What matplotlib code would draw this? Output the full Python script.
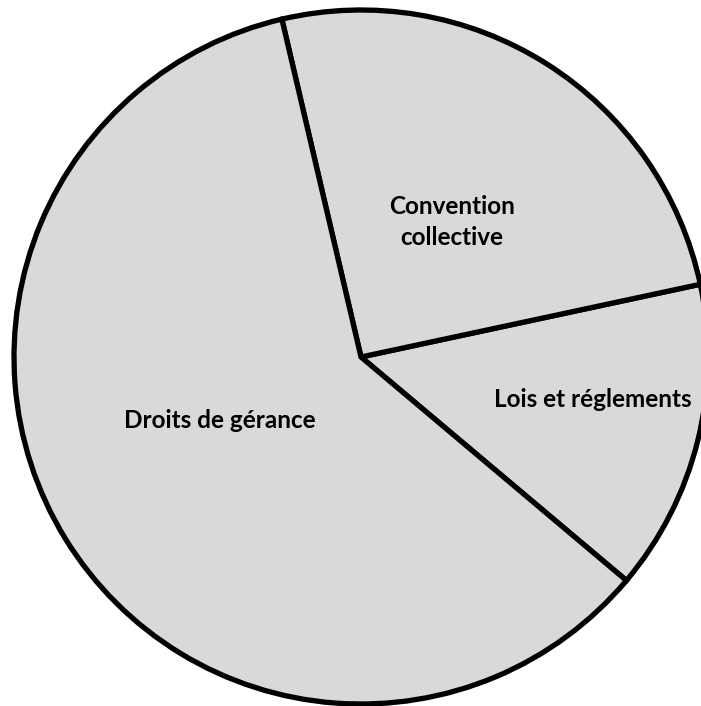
import matplotlib.pyplot as plt

# slice data (counter-clockwise from the lower right boundary)
categories = ['Lois et réglements', 'Convention collective', 'Droits de gérance']
values = [14.5, 25.3, 60.2]
# label anchor (centre x, baseline y of last line) in pixel units
label_xy = [(593, 299), (452, 461), (220, 278)]

fig = plt.figure(figsize=(7.01, 7.06), dpi=100)
ax = fig.add_axes([0, 0, 1, 1])

wedges, _ = ax.pie(values, startangle=-40.1, counterclock=True,
                   center=(361, 349), radius=347,
                   colors=['#d9d9d9'] * len(values),
                   wedgeprops=dict(edgecolor='black', linewidth=3.8))

for name, (x, y) in zip(categories, label_xy):
    ax.text(x, y, name.replace('Convention ', 'Convention\n'),
            ha='center', va='baseline', fontsize=17.5, fontweight='bold',
            family='Lato', linespacing=1.4)

ax.set_xlim(0, 701)
ax.set_ylim(0, 706)
ax.set_aspect('equal')
ax.axis('off')

fig.savefig('out.png', dpi=100)
